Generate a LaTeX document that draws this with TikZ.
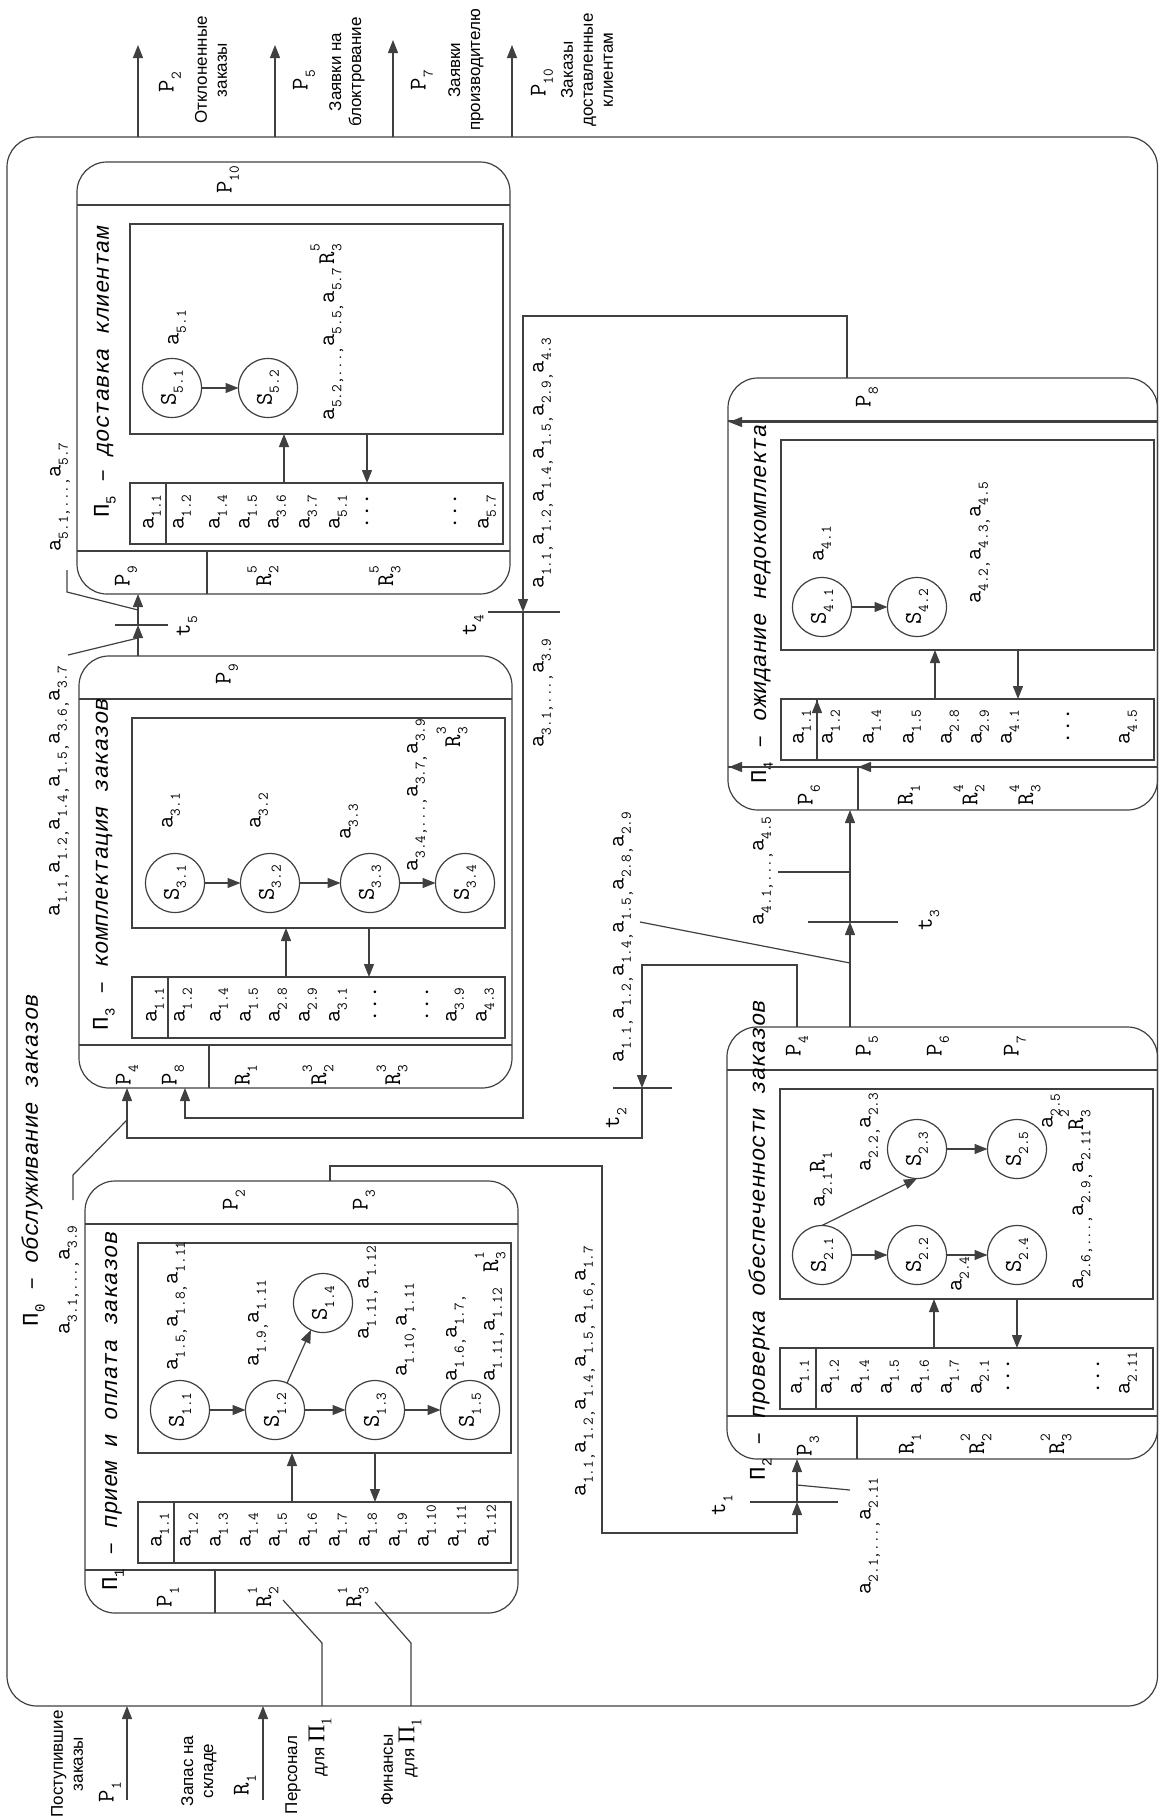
\documentclass[tikz,border=0pt]{standalone}
\usepackage{fontspec}
\setmainfont{Liberation Serif}
\newfontfamily\cour{Liberation Mono}
\newfontfamily\arl{Liberation Sans}
\usetikzlibrary{arrows.meta,positioning,calc}

\newcommand{\lo}[1]{\raisebox{-0.3em}{\scalebox{0.62}{#1}}}
\newcommand{\hi}[1]{\raisebox{0.6em}{\scalebox{0.62}{#1}}}
\newcommand{\av}[1]{a\lo{#1}}
\newcommand{\RR}[2]{R\rlap{\hi{#2}}\lo{#1}}
\newcommand{\rt}[1]{\rotatebox{90}{#1}}

\tikzset{
  ln/.style={draw=black!75,line width=1.2pt},
  flowarr/.style={ln,-{Triangle[length=13pt,width=10pt]}},
  blockbox/.style={ln,rounded corners=30pt,inner sep=0pt,outer sep=0pt},
  staterect/.style={ln,minimum width=373,minimum height=210,inner sep=0pt,outer sep=0pt},
  attrtable/.style={ln,minimum width=373,minimum height=61,inner sep=0pt,outer sep=0pt},
  statenode/.style={ln,circle,minimum size=59,inner sep=0pt,outer sep=0pt,
                    font=\ttfamily\fontsize{24}{26}\selectfont},
  mlab/.style={font=\ttfamily\fontsize{24}{26}\selectfont,rotate=90,inner sep=0pt},
  entry/.style={mlab,anchor=west},
  ttl/.style={font=\cour\itshape\fontsize{22.5}{26}\selectfont,rotate=90,inner sep=0pt},
  outlbl/.style={font=\arl\fontsize{17}{20}\selectfont,rotate=90,align=center,inner sep=0pt}
}

% process block: name, left, top, width
\newcommand{\prblock}[4]{%
  \node[blockbox,minimum width=#4,minimum height=432] (#1) at ({#2+#4/2},{#3+216}) {};
  \draw[ln] ({#2},{#3+43}) -- ({#2+#4},{#3+43});
  \draw[ln] ({#2},{#3+389}) -- ({#2+#4},{#3+389});
  \draw[ln] ({#2+130},{#3+389}) -- ({#2+130},{#3+432});
  \node[staterect] (#1s) at ({#2+239.5},{#3+167}) {};
  \node[attrtable] (#1t) at ({#2+239.5},{#3+351.5}) {};
  \draw[ln] ({#2+89},{#3+321}) -- ({#2+89},{#3+382});
  \draw[flowarr] ({#2+207},{#3+321}) -- ({#2+207},{#3+272});
  \draw[flowarr] ({#2+290},{#3+272}) -- ({#2+290},{#3+321});
}

\begin{document}
\begin{tikzpicture}[x=1pt,y=-1pt]
  \useasboundingbox (0,0) rectangle (1159,1820);
  \node[blockbox,minimum width=1150.5,minimum height=1569] (p0) at (582.25,921.5) {};
  \node[ttl] (p0n) at (33,1160) {{\upshape П\lo{0}} – обслуживание заказов};

  % P5 block
  \prblock{b5}{77}{162}{433}
  \node[ttl] (b5n) at (105,372) {{\upshape П\lo{5}} – доставка клиентам};
  \node[mlab] (b5o) at (228,180) {P\lo{10}};
  \node[mlab] (b5i) at (126,576) {P\lo{9}};
  \node[mlab] (b5r2) at (263,576) {\RR{2}{5}};
  \node[mlab] (b5r3) at (385,576) {\RR{3}{5}};
  \node[statenode] (s51) at (172,388) {\rt{S\lo{5.1}}};
  \node[statenode] (s52) at (268,388) {\rt{S\lo{5.2}}};
  \draw[flowarr] (s51) -- (s52);
  \node[mlab] (b5a1) at (177,328) {\av{5.1}};
  \node[mlab] (b5a2) at (327,332) {\av{5.2}\lo{,...,}\av{5.5}\lo{,}\av{5.7}\,\RR{3}{5}};
  \node[entry] (b5e1) at (152,530) {\av{1.1}};
  \node[entry] (b5e2) at (182,530) {\av{1.2}};
  \node[entry] (b5e3) at (218,530) {\av{1.4}};
  \node[entry] (b5e4) at (248,530) {\av{1.5}};
  \node[entry] (b5e5) at (277,530) {\av{3.6}};
  \node[entry] (b5e6) at (308,530) {\av{3.7}};
  \node[entry] (b5e7) at (338,530) {\av{5.1}};
  \node[entry] (b5e8) at (367,530) {...};
  \node[entry] (b5e9) at (455,530) {...};
  \node[entry] (b5e10) at (487,530) {\av{5.7}};

  % P3 block
  \prblock{b3}{79}{656}{433}
  \node[ttl] (b3n) at (104,864) {{\upshape П\lo{3}} – комплектация заказов};
  \node[mlab] (b3o) at (227,674) {P\lo{9}};
  \node[mlab] (b3i1) at (127,1075) {P\lo{4}};
  \node[mlab] (b3i2) at (173,1075) {P\lo{8}};
  \node[mlab] (b3r1) at (246,1075) {R\lo{1}};
  \node[mlab] (b3r2) at (318,1075) {\RR{2}{3}};
  \node[mlab] (b3r3) at (392,1075) {\RR{3}{3}};
  \node[statenode] (s31) at (175,883) {\rt{S\lo{3.1}}};
  \node[statenode] (s32) at (270,883) {\rt{S\lo{3.2}}};
  \node[statenode] (s33) at (370,883) {\rt{S\lo{3.3}}};
  \node[statenode] (s34) at (465,883) {\rt{S\lo{3.4}}};
  \draw[flowarr] (s31) -- (s32);
  \draw[flowarr] (s32) -- (s33);
  \draw[flowarr] (s33) -- (s34);
  \node[mlab] (b3a1) at (171,811) {\av{3.1}};
  \node[mlab] (b3a2) at (259,811) {\av{3.2}};
  \node[mlab] (b3a3) at (349,822) {\av{3.3}};
  \node[mlab] (b3a4) at (417,795) {\av{3.4}\lo{,...,}\av{3.7}\lo{,}\av{3.9}};
  \node[mlab] (b3a5) at (452,737) {\RR{3}{3}};
  \node[entry] (b3e1) at (155,1023) {\av{1.1}};
  \node[entry] (b3e2) at (183,1023) {\av{1.2}};
  \node[entry] (b3e3) at (219,1023) {\av{1.4}};
  \node[entry] (b3e4) at (249,1023) {\av{1.5}};
  \node[entry] (b3e5) at (278,1023) {\av{2.8}};
  \node[entry] (b3e6) at (308,1023) {\av{2.9}};
  \node[entry] (b3e7) at (338,1023) {\av{3.1}};
  \node[entry] (b3e8) at (375,1023) {...};
  \node[entry] (b3e9) at (427,1023) {...};
  \node[entry] (b3e10) at (455,1023) {\av{3.9}};
  \node[entry] (b3e11) at (485,1023) {\av{4.3}};

  % P1 block
  \prblock{b1}{85}{1181}{433}
  \node[ttl] (b1n) at (113,1411) {{\upshape П\lo{1}} – прием  и  оплата заказов};
  \node[mlab] (b1o1) at (234,1200) {P\lo{2}};
  \node[mlab] (b1o2) at (364,1200) {P\lo{3}};
  \node[mlab] (b1i) at (168,1597) {P\lo{1}};
  \node[mlab] (b1r2) at (263,1597) {\RR{2}{1}};
  \node[mlab] (b1r3) at (353,1597) {\RR{3}{1}};
  \node[statenode] (s11) at (180,1410) {\rt{S\lo{1.1}}};
  \node[statenode] (s12) at (275,1410) {\rt{S\lo{1.2}}};
  \node[statenode] (s13) at (375,1410) {\rt{S\lo{1.3}}};
  \node[statenode] (s15) at (470,1410) {\rt{S\lo{1.5}}};
  \node[statenode] (s14) at (323,1303) {\rt{S\lo{1.4}}};
  \draw[flowarr] (s11) -- (s12);
  \draw[flowarr] (s12) -- (s13);
  \draw[flowarr] (s13) -- (s15);
  \draw[flowarr] (s12) -- (s14);
  \node[mlab] (b1a1) at (177,1306) {\av{1.5}\lo{,}\av{1.8}\lo{,}\av{1.11}};
  \node[mlab] (b1a2) at (258,1323) {\av{1.9}\lo{,}\av{1.11}};
  \node[mlab] (b1a3) at (368,1293) {\av{1.11}\lo{,}\av{1.12}};
  \node[mlab] (b1a4) at (406,1330) {\av{1.10}\lo{,}\av{1.11}};
  \node[mlab] (b1a5) at (456,1338) {\av{1.6}\lo{,}\av{1.7}\lo{,}};
  \node[mlab] (b1a6) at (494,1335) {\av{1.11}\lo{,}\av{1.12}};
  \node[mlab] (b1a7) at (490,1262) {\RR{3}{1}};
  \node[entry] (b1e1) at (160,1548) {\av{1.1}};
  \node[entry] (b1e2) at (189,1548) {\av{1.2}};
  \node[entry] (b1e3) at (219,1548) {\av{1.3}};
  \node[entry] (b1e4) at (249,1548) {\av{1.4}};
  \node[entry] (b1e5) at (278,1548) {\av{1.5}};
  \node[entry] (b1e6) at (308,1548) {\av{1.6}};
  \node[entry] (b1e7) at (338,1548) {\av{1.7}};
  \node[entry] (b1e8) at (368,1548) {\av{1.8}};
  \node[entry] (b1e9) at (398,1548) {\av{1.9}};
  \node[entry] (b1e10) at (427,1548) {\av{1.10}};
  \node[entry] (b1e11) at (457,1548) {\av{1.11}};
  \node[entry] (b1e12) at (487,1548) {\av{1.12}};

  % P4 block
  \prblock{b4}{728}{378}{429.5}
  \node[ttl] (b4n) at (762,604) {{\upshape П\lo{4}} – ожидание   недокомплекта};
  \node[mlab] (b4o) at (867,397) {P\lo{8}};
  \node[mlab] (b4i) at (809,795) {P\lo{6}};
  \node[mlab] (b4r1) at (909,795) {R\lo{1}};
  \node[mlab] (b4r2) at (969,795) {\RR{2}{4}};
  \node[mlab] (b4r3) at (1025,795) {\RR{3}{4}};
  \draw[flowarr] (1157,422) -- (729,422);
  \draw[flowarr] (1157,767) -- (858,767);
  \draw[flowarr] (857,767) -- (729,767);
  \draw[flowarr] (817,760) -- (817,700);
  \node[statenode] (s41) at (822,607) {\rt{S\lo{4.1}}};
  \node[statenode] (s42) at (917,607) {\rt{S\lo{4.2}}};
  \draw[flowarr] (s41) -- (s42);
  \node[mlab] (b4a1) at (822,544) {\av{4.1}};
  \node[mlab] (b4a2) at (980,543) {\av{4.2}\lo{,}\av{4.3}\lo{,}\av{4.5}};
  \node[entry] (b4e1) at (802,745) {\av{1.1}};
  \node[entry] (b4e2) at (831,745) {\av{1.2}};
  \node[entry] (b4e3) at (872,745) {\av{1.4}};
  \node[entry] (b4e4) at (912,745) {\av{1.5}};
  \node[entry] (b4e5) at (950,745) {\av{2.8}};
  \node[entry] (b4e6) at (980,745) {\av{2.9}};
  \node[entry] (b4e7) at (1010,745) {\av{4.1}};
  \node[entry] (b4e8) at (1068,745) {...};
  \node[entry] (b4e9) at (1128,745) {\av{4.5}};

  % P2 block
  \prblock{b2}{727}{1027}{430.5}
  \node[ttl] (b2n) at (760,1240) {{\upshape П\lo{2}} – проверка обеспеченности заказов};
  \node[mlab] (b2o1) at (797,1046) {P\lo{4}};
  \node[mlab] (b2o2) at (867,1046) {P\lo{5}};
  \node[mlab] (b2o3) at (938,1046) {P\lo{6}};
  \node[mlab] (b2o4) at (1015,1046) {P\lo{7}};
  \node[mlab] (b2i) at (808,1446) {P\lo{3}};
  \node[mlab] (b2r1) at (910,1444) {R\lo{1}};
  \node[mlab] (b2r2) at (976,1444) {\RR{2}{2}};
  \node[mlab] (b2r3) at (1056,1444) {\RR{3}{2}};
  \node[statenode] (s21) at (822,1255) {\rt{S\lo{2.1}}};
  \node[statenode] (s22) at (917,1255) {\rt{S\lo{2.2}}};
  \node[statenode] (s24) at (1017,1255) {\rt{S\lo{2.4}}};
  \node[statenode] (s23) at (917,1149) {\rt{S\lo{2.3}}};
  \node[statenode] (s25) at (1017,1149) {\rt{S\lo{2.5}}};
  \draw[flowarr] (s21) -- (s22);
  \draw[flowarr] (s22) -- (s24);
  \draw[flowarr] (s21.north) -- (s23.south);
  \draw[flowarr] (s23) -- (s25);
  \node[mlab] (b2a1) at (821,1180) {\av{2.1}R\lo{1}};
  \node[mlab] (b2a2) at (870,1132) {\av{2.2}\lo{,}\av{2.3}};
  \node[mlab] (b2a3) at (960,1274) {\av{2.4}};
  \node[mlab] (b2a4) at (1051,1111) {\av{2.5}};
  \node[mlab] (b2a5) at (1076,1200) {\av{2.6}\lo{,...,}\av{2.9}\lo{,}\av{2.11}\RR{3}{2}};
  \node[entry] (b2e1) at (800,1395) {\av{1.1}};
  \node[entry] (b2e2) at (830,1395) {\av{1.2}};
  \node[entry] (b2e3) at (860,1395) {\av{1.4}};
  \node[entry] (b2e4) at (890,1395) {\av{1.5}};
  \node[entry] (b2e5) at (920,1395) {\av{1.6}};
  \node[entry] (b2e6) at (950,1395) {\av{1.7}};
  \node[entry] (b2e7) at (980,1395) {\av{2.1}};
  \node[entry] (b2e8) at (1008,1395) {...};
  \node[entry] (b2e9) at (1098,1395) {...};
  \node[entry] (b2e10) at (1128,1395) {\av{2.11}};

  % outputs of the whole system
  \coordinate (o2) at (138,45);
  \coordinate (o5) at (275,45);
  \coordinate (o7) at (393,40);
  \coordinate (o10) at (512,45);
  \draw[flowarr] (p0.north -| o2) -- (o2);
  \draw[flowarr] (p0.north -| o5) -- (o5);
  \draw[flowarr] (p0.north -| o7) -- (o7);
  \draw[flowarr] (p0.north -| o10) -- (o10);
  \node[mlab] (lo2) at (170,82) {P\lo{2}};
  \node[outlbl] (to2) at (211,70) {Отклоненные\\заказы};
  \node[mlab] (lo5) at (304,80) {P\lo{5}};
  \node[outlbl] (to5) at (347,72) {Заявки на\\блоктрование};
  \node[mlab] (lo7) at (422,80) {P\lo{7}};
  \node[outlbl] (to7) at (466,70) {Заявки\\производителю};
  \node[mlab] (lo10) at (542,83) {P\lo{10}};
  \node[outlbl] (to10) at (587,70) {Заказы\\доставленные\\клиентам};

  % inputs of the whole system
  \coordinate (in1) at (127,1800);
  \coordinate (inr) at (263,1800);
  \draw[flowarr] (in1) -- (in1 |- p0.south);
  \draw[flowarr] (inr) -- (inr |- p0.south);
  \node[mlab] (li1) at (110,1792) {P\lo{1}};
  \node[outlbl] (ti1) at (67,1764) {Поступившие\\заказы};
  \node[mlab] (lir) at (245,1785) {R\lo{1}};
  \node[outlbl] (tir) at (199,1771) {Запас на\\складе};
  \node[outlbl] (tpers) at (293,1775) {Персонал};
  \node[outlbl] (tpers2) at (320,1747) {для {\rmfamily\fontsize{24}{26}\selectfont П\lo{1}}};
  \node[outlbl] (tfin) at (387,1770) {Финансы};
  \node[outlbl] (tfin2) at (410,1748) {для {\rmfamily\fontsize{24}{26}\selectfont П\lo{1}}};
  \coordinate (pers) at (322,1643);
  \coordinate (persend) at (283,1600);
  \draw[ln] (p0.south -| pers) -- (pers) -- (persend);
  \coordinate (fin) at (411,1643);
  \coordinate (finend) at (375,1602);
  \draw[ln] (p0.south -| fin) -- (fin) -- (finend);

  % transition t5: P3 -> P5
  \coordinate (t5) at (138,625);
  \draw[ln] ($(t5)+(-23,0)$) -- ($(t5)+(30,0)$);
  \draw[flowarr] (b3.north -| t5) -- (t5);
  \draw[flowarr] (t5) -- (t5 |- b5.south);
  \node[mlab] (lt5) at (187,626) {t\lo{5}};
  \node[mlab] (f5a) at (59,791) {\av{1.1}\lo{,}\av{1.2}\lo{,}\av{1.4}\lo{,}\av{1.5}\lo{,}\av{3.6}\lo{,}\av{3.7}};
  \node[mlab] (f5b) at (60,497) {\av{5.1}\lo{,...,}\av{5.7}};
  \coordinate (f5aend) at (68,655);
  \coordinate (f5bend) at (67,570);
  \draw[ln] (f5aend) -- ($(t5)+(0,13)$);
  \draw[ln] (f5bend) -- (67,592) -- ($(t5)+(0,-15)$);

  % transition t4: P4 -> P3
  \coordinate (t4) at (523,612);
  \draw[ln] ($(t4)+(-35,0)$) -- ($(t4)+(37,0)$);
  \coordinate (p8out) at (847,316);
  \coordinate (p8in) at (185,1118);
  \draw[flowarr] (b4.north -| p8out) -- (p8out) -| (t4);
  \draw[flowarr] (t4) |- (p8in) -- (p8in |- b3.south);
  \node[mlab] (lt4) at (473,625) {t\lo{4}};
  \node[mlab] (f4a) at (543,463) {\av{1.1}\lo{,}\av{1.2}\lo{,}\av{1.4}\lo{,}\av{1.5}\lo{,}\av{2.9}\lo{,}\av{4.3}};
  \node[mlab] (f4b) at (543,693) {\av{3.1}\lo{,...,}\av{3.9}};

  % transition t2: P2 -> P3
  \coordinate (t2) at (642,1088);
  \draw[ln] ($(t2)+(-29,0)$) -- ($(t2)+(30,0)$);
  \coordinate (p4out) at (797,965);
  \coordinate (p4in) at (127,1138);
  \draw[flowarr] (b2.north -| p4out) -- (p4out) -| (t2);
  \draw[flowarr] (t2) |- (p4in) -- (p4in |- b3.south);
  \node[mlab] (lt2) at (616,1118) {t\lo{2}};
  \node[mlab] (f0) at (69,1280) {\av{3.1}\lo{,...,}\av{3.9}};
  \coordinate (f0end) at (73,1200);
  \draw[ln] (f0end) -- (73,1175) -- ($(p4in)+(0,-18)$);

  % transition t3: P2 -> P4
  \coordinate (t3) at (850,922);
  \draw[ln] ($(t3)+(-42,0)$) -- ($(t3)+(48,0)$);
  \draw[flowarr] (b2.north -| t3) -- (t3);
  \draw[flowarr] (t3) -- (t3 |- b4.south);
  \node[mlab] (lt3) at (929,920) {t\lo{3}};
  \node[mlab] (f3a) at (623,937) {\av{1.1}\lo{,}\av{1.2}\lo{,}\av{1.4}\lo{,}\av{1.5}\lo{,}\av{2.8}\lo{,}\av{2.9}};
  \node[mlab] (f3b) at (763,871) {\av{4.1}\lo{,...,}\av{4.5}};
  \coordinate (f3aend) at (640,922);
  \coordinate (f3bend) at (778,872);
  \draw[ln] (f3aend) -- ($(t3)+(0,41)$);
  \draw[ln] (f3bend) -- ($(t3)+(0,-50)$);

  % transition t1: P1 -> P2
  \coordinate (t1) at (797,1502);
  \draw[ln] ($(t1)+(-47,0)$) -- ($(t1)+(41,0)$);
  \coordinate (p3out) at (330,1166);
  \coordinate (p3mid) at (602,1533);
  \draw[flowarr] (b1.north -| p3out) -- (p3out) -| (p3mid) -| (t1);
  \draw[flowarr] (t1) -- (t1 |- b2.south);
  \node[mlab] (lt1) at (722,1505) {t\lo{1}};
  \node[mlab] (f1a) at (585,1371) {\av{1.1}\lo{,}\av{1.2}\lo{,}\av{1.4}\lo{,}\av{1.5}\lo{,}\av{1.6}\lo{,}\av{1.7}};
  \node[mlab] (f1b) at (870,1536) {\av{2.1}\lo{,...,}\av{2.11}};
  \coordinate (f1bend) at (850,1490);
  \draw[ln] (f1bend) -- ($(t1)+(0,-17)$);
\end{tikzpicture}
\end{document}
